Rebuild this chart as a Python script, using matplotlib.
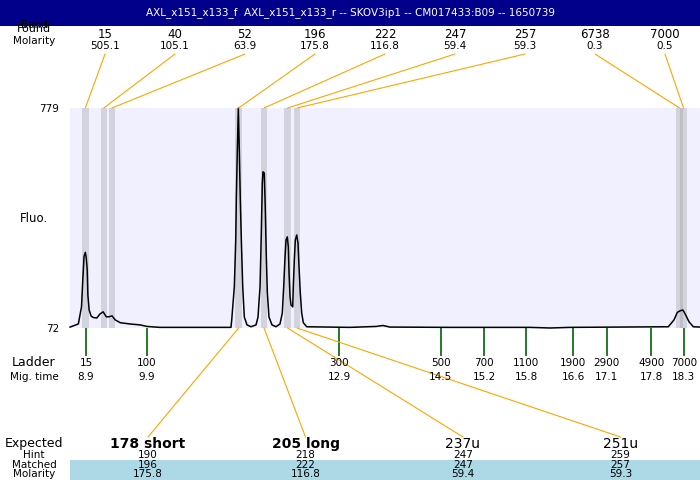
import matplotlib
matplotlib.use("Agg")
import matplotlib.pyplot as plt
import matplotlib.transforms as mtransforms
from matplotlib.patches import Rectangle, ConnectionPatch

TITLE = "AXL_x151_x133_f  AXL_x151_x133_r -- SKOV3ip1 -- CM017433:B09 -- 1650739"

# electropherogram trace (migration time, fluorescence)
trace_t = [8.65, 8.78, 8.83, 8.85, 8.87, 8.89, 8.905, 8.92, 8.93, 8.95, 8.98,
           9.01, 9.07, 9.12, 9.17, 9.22, 9.26, 9.31, 9.36, 9.44, 9.59, 9.75,
           9.86, 10.06, 11.18,
           11.192, 11.233, 11.255, 11.264, 11.280, 11.296, 11.311, 11.327,
           11.343, 11.365, 11.390, 11.432, 11.495, 11.574, 11.605, 11.637,
           11.657, 11.673, 11.684, 11.704, 11.720, 11.736, 11.752, 11.778,
           11.825, 11.888, 11.951, 11.987, 12.009, 12.030, 12.046, 12.066,
           12.082, 12.093, 12.109, 12.124, 12.151, 12.160, 12.176, 12.192,
           12.214, 12.234, 12.250, 12.270, 12.292, 12.318, 12.371,
           13.05, 13.46, 13.57, 13.68, 14.62, 15.88, 16.20, 16.51,
           18.057, 18.146, 18.198, 18.24, 18.283, 18.30, 18.335, 18.382,
           18.45, 18.555]
trace_f = [75, 85, 140, 226, 303, 315, 297, 258, 178, 130, 111,
           106, 104, 117, 124, 108, 108, 111, 98, 89, 85, 82,
           77, 74, 74,
           98, 205, 355, 483, 644, 779, 644, 483,
           355, 204, 107, 82, 76, 82, 107, 204,
           377, 538, 574, 570, 451, 300, 185, 107,
           82, 76, 85, 120, 204, 300, 355, 365,
           332, 249, 172, 146, 140, 204, 290, 355,
           371, 345, 268, 185, 120, 89, 76,
           74, 77, 80, 75, 74, 74, 72, 74,
           76, 98, 122, 127, 130, 125, 112, 92,
           76, 75]

# peaks found
found_sizes = [15, 40, 52, 196, 222, 247, 257, 6738, 7000]
found_molarity = [505.1, 105.1, 63.9, 175.8, 116.8, 59.4, 59.3, 0.3, 0.5]
found_times = [8.89, 9.18, 9.31, 11.30, 11.70, 12.07, 12.22, 18.233, 18.296]

# ladder
ladder_sizes = [15, 100, 300, 500, 700, 1100, 1900, 2900, 4900, 7000]
ladder_times = [8.90, 9.86, 12.88, 14.48, 15.16, 15.82, 16.56, 17.09, 17.79, 18.30]

# expected products
expected_labels = ["178 short", "205 long", "237u", "251u"]
expected_bold = [True, True, False, False]
hint_sizes = [190, 218, 247, 259]
matched_sizes = [196, 222, 247, 257]
matched_molarity = [175.8, 116.8, 59.4, 59.3]

ORANGE = "#FFA500"
GREEN = "#006400"
BAND = "#808080"

fig = plt.figure(figsize=(7, 4.8), dpi=100)

# main trace axes
ax = fig.add_axes([70 / 700, 152 / 480, 630 / 700, 220 / 480])
ax.set_facecolor("#F0F0FF")
ax.set_xlim(8.649, 18.555)
ax.set_ylim(72, 779)
for s in ax.spines.values():
    s.set_visible(False)
ax.set_xticks([])
ax.set_yticks([72, 779])
ax.tick_params(axis="y", length=0, labelsize=7.5, pad=8)

for t in found_times:
    ax.axvspan(t - 0.051, t + 0.051, color=BAND, alpha=0.25, lw=0)
ax.plot(trace_t, trace_f, color="black", lw=1.1, clip_on=False, zorder=3)

# overlay in pixel coordinates for the labels
ov = fig.add_axes([0, 0, 1, 1], zorder=3)
ov.set_xlim(0, 700)
ov.set_ylim(480, 0)
ov.axis("off")
ov.patch.set_visible(False)

ov.add_patch(Rectangle((0, 0), 700, 26, color="#00008B", lw=0))
ov.text(350, 13, TITLE, color="white", fontsize=7.5, ha="center", va="center")

ov.text(34, 25, "Band", fontsize=7.5, ha="center", va="center")
ov.text(34, 29, "Found", fontsize=8, ha="center", va="center")
ov.text(34, 41, "Molarity", fontsize=7.5, ha="center", va="center")
ov.text(34, 219, "Fluo.", fontsize=8.5, ha="center", va="center")

top_tr = ax.get_xaxis_transform()
for i, (size, mol, t) in enumerate(zip(found_sizes, found_molarity, found_times)):
    x = 105 + 70 * i
    ov.text(x, 34, str(size), fontsize=8.5, ha="center", va="center")
    ov.text(x, 46, f"{mol:.1f}", fontsize=7.5, ha="center", va="center")
    fig.add_artist(ConnectionPatch(xyA=(x, 54), coordsA=ov.transData,
                                   xyB=(t, 1), coordsB=top_tr,
                                   color=ORANGE, lw=0.8))

# ladder
lad_tr = mtransforms.blended_transform_factory(ax.transData, ov.transData)
ax.vlines(ladder_times, -0.125, 0, transform=top_tr, color=GREEN, lw=1.2,
          clip_on=False)
ov.text(34, 363, "Ladder", fontsize=9, ha="center", va="center")
ov.text(34, 377, "Mig. time", fontsize=7.5, ha="center", va="center")
for size, t in zip(ladder_sizes, ladder_times):
    ov.text(t, 363, str(size), transform=lad_tr, fontsize=7.5,
            ha="center", va="center")
    ov.text(t, 377, f"{t:.1f}", transform=lad_tr, fontsize=7.5,
            ha="center", va="center")

# expected / matched table
ov.add_patch(Rectangle((70, 460), 630, 20, color="#ADD8E6", lw=0))
ov.text(34, 443, "Expected", fontsize=9, ha="center", va="center")
ov.text(34, 455, "Hint", fontsize=7.5, ha="center", va="center")
ov.text(34, 465, "Matched", fontsize=7.5, ha="center", va="center")
ov.text(34, 474, "Molarity", fontsize=7.5, ha="center", va="center")
for i, label in enumerate(expected_labels):
    x = 148 + 157.5 * i
    ov.text(x, 444, label, fontsize=10, ha="center", va="center",
            fontweight="bold" if expected_bold[i] else "normal")
    ov.text(x, 455, str(hint_sizes[i]), fontsize=7.5, ha="center", va="center")
    ov.text(x, 465, str(matched_sizes[i]), fontsize=7.5, ha="center", va="center")
    ov.text(x, 474, f"{matched_molarity[i]:.1f}", fontsize=7.5,
            ha="center", va="center")
    t = found_times[found_sizes.index(matched_sizes[i])]
    fig.add_artist(ConnectionPatch(xyA=(x, 437), coordsA=ov.transData,
                                   xyB=(t, 0), coordsB=top_tr,
                                   color=ORANGE, lw=0.8))

fig.savefig("out.png", dpi=100)
